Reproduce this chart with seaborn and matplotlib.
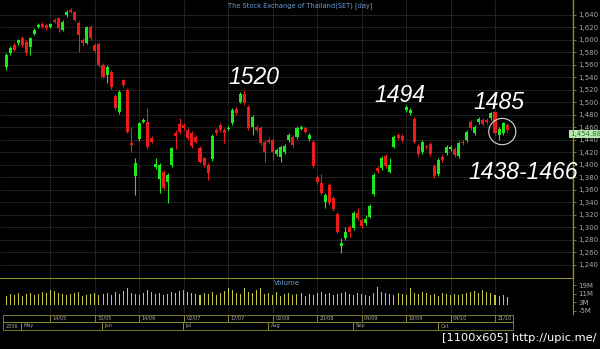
import numpy as np
import pandas as pd
import matplotlib
matplotlib.use("Agg")
import matplotlib.pyplot as plt
from matplotlib.patches import Ellipse, Rectangle
import seaborn as sns

# ---------------- data ----------------
opens = [1556,1579,1592,1594,1603,1597,1588,1609,1620,1625,1623,1621,1632,1634,1616,1639,1648,1644,1627,1599,1595,1621,1592,1593,1560,
         1544,1548,1510,1484,1535,1519,1435,1382,1441,1468,1469,1443,1396,1377,1389,1373,1400,1451,1465,1464,1456,1451,1444,1427,1410,
         1400,1409,1456,1464,1455,1457,1466,1489,1501,1513,1493,1461,1461,1459,1437,1439,1440,1417,1412,1420,1439,1445,1444,1457,1459,
         1441,1437,1380,1370,1341,1368,1347,1321,1270,1283,1300,1299,1323,1311,1307,1317,1353,1395,1395,1414,1389,1429,1448,1446,
         1487,1483,1473,1430,1420,1430,1433,1398,1385,1412,1419,1425,1425,1414,1436,1440,1469,1451,1468,1471,1472,1474,1484,1448,1450,1463]
closes = [1575,1586,1584,1599,1591,1579,1603,1616,1623,1621,1618,1625,1629,1618,1629,1645,1645,1632,1608,1594,1620,1603,1582,1560,1541,
          1557,1524,1491,1517,1528,1453,1432,1403,1466,1471,1428,1437,1401,1400,1363,1384,1426,1446,1452,1459,1443,1430,1437,1405,1400,
          1387,1446,1451,1456,1450,1459,1487,1482,1513,1498,1458,1476,1455,1435,1421,1437,1421,1424,1429,1430,1447,1432,1459,1461,1453,
          1447,1398,1372,1355,1351,1339,1329,1293,1275,1292,1292,1323,1315,1302,1313,1334,1384,1390,1411,1398,1400,1445,1443,1440,
          1492,1487,1437,1417,1436,1428,1417,1382,1407,1408,1428,1428,1416,1435,1434,1452,1459,1460,1473,1465,1468,1482,1450,1457,1466,1455]
highs = [1578,1590,1595,1601,1606,1600,1605,1618,1626,1628,1625,1627,1634,1636,1631,1647,1650,1646,1630,1602,1622,1623,1594,1596,1562,
         1560,1551,1513,1520,1537,1522,1460,1410,1469,1475,1490,1446,1410,1403,1392,1387,1429,1455,1475,1467,1459,1454,1447,1430,1413,
         1403,1449,1459,1467,1458,1462,1490,1492,1516,1519,1496,1479,1464,1462,1440,1445,1443,1427,1432,1433,1450,1448,1462,1464,1462,
         1450,1440,1383,1385,1354,1371,1350,1324,1283,1300,1303,1326,1330,1314,1320,1337,1387,1398,1414,1417,1410,1448,1451,1449,
         1496,1490,1476,1433,1439,1432,1436,1401,1410,1415,1431,1431,1428,1438,1439,1455,1472,1463,1476,1474,1475,1485,1486,1460,1469,1466]
lows = [1552,1576,1582,1592,1589,1575,1575,1607,1618,1619,1615,1619,1627,1612,1614,1637,1643,1630,1581,1590,1593,1600,1579,1556,1538,
        1530,1521,1488,1481,1525,1450,1420,1352,1438,1466,1425,1434,1393,1355,1360,1339,1397,1425,1449,1456,1440,1427,1434,1402,1397,
        1376,1406,1448,1453,1435,1455,1463,1479,1498,1495,1455,1448,1452,1432,1405,1434,1408,1414,1405,1417,1436,1429,1441,1455,1450,
        1438,1395,1369,1352,1330,1336,1326,1290,1259,1280,1285,1296,1312,1299,1304,1314,1350,1387,1392,1395,1386,1426,1440,1437,
        1484,1480,1434,1414,1417,1425,1414,1379,1382,1405,1416,1422,1413,1411,1431,1437,1456,1448,1465,1462,1465,1471,1447,1440,1447,1452]
volumes = [9,11,10,12,9,11,12,10,11,13,12,15,14,12,11,10,11,12,13,9,10,11,12,10,11,
           12,10,13,11,14,16,12,11,10,12,15,13,11,12,10,11,13,12,14,15,13,12,11,10,12,
           11,13,10,12,14,16,15,12,11,16,13,12,15,16,11,12,10,13,9,11,12,10,11,12,9,
           11,10,12,13,11,12,10,11,12,13,11,10,12,11,10,9,12,17,13,12,11,10,12,11,10,
           16,12,11,13,12,10,11,9,12,11,10,11,10,11,12,13,14,12,15,13,12,10,9,10,8]

price_ticks = list(range(1240, 1641, 20))
date_tick_pos = [11, 22, 33, 44, 55, 66, 77, 88, 99, 110, 121]
date_tick_labels = ["14/05", "30/05", "14/06", "02/07", "17/07", "02/08", "20/08", "04/09", "19/09", "04/10", "21/10"]
month_pos = [-0.75, 3.7, 23.8, 43.8, 64.9, 85.9, 106.9]
month_labels = ["2556", "May", "Jun", "Jul", "Aug", "Sep", "Oct"]
vol_ticks = [19, 11, 3, -5]
vol_tick_labels = ["19M", "11M", "3M", "-5M"]
annotations = [("1520", 61.4, 1540), ("1494", 97.5, 1511), ("1485", 122.0, 1499), ("1438-1466", 128.0, 1388)]
last_price = "1,454.88"

df = pd.DataFrame({"i": np.arange(len(opens)), "open": opens, "close": closes,
                   "high": highs, "low": lows, "vol": volumes})

# ---------------- style ----------------
sns.set_style("dark")
plt.rcParams["font.family"] = ["DejaVu Sans"]

W, H = 600, 349
fig = plt.figure(figsize=(6, 3.49), dpi=100, facecolor="black")

XL = (-1.49, 140.3)
OLIVE = "#8c8c2a"
GRID = "#222222"
GREEN = "#1fe81f"
RED = "#ec1b1b"
TXT = "#a8a8a8"

# ---- main panel ----
ax = fig.add_axes([0, 1 - 278 / H, 573 / W, 278 / H])
ax.set_facecolor("black")
ax.set_xlim(*XL)
ax.set_ylim(1218.7, 1663.5)
for p in price_ticks:
    ax.axhline(p, color=GRID, lw=0.7, zorder=0)
for t in date_tick_pos:
    ax.axvline(t, color=GRID, lw=0.7, zorder=0)

up = df[df.close >= df.open]
dn = df[df.close < df.open]
ax.vlines(up.i, up.low, up.high, color=GREEN, lw=0.8, zorder=2)
ax.vlines(dn.i, dn.low, dn.high, color=RED, lw=0.8, zorder=2)
ax.bar(up.i, up.close - up.open, bottom=up.open, width=0.75, color=GREEN, lw=0, zorder=3)
ax.bar(dn.i, dn.open - dn.close, bottom=dn.close, width=0.75, color=RED, lw=0, zorder=3)

ax.yaxis.tick_right()
ax.set_yticks(price_ticks)
ax.set_yticklabels([f"{p:,}" for p in price_ticks])
ax.tick_params(axis="y", colors=OLIVE, labelcolor=TXT, labelsize=5, length=2, width=0.6, pad=2)
ax.set_xticks([])
for s in ["left", "top", "bottom"]:
    ax.spines[s].set_visible(False)
ax.spines["right"].set_color(OLIVE)
ax.spines["right"].set_linewidth(1.0)
ax.grid(False)

for txt, xi, yv in annotations:
    ax.text(xi, yv, txt, color="white", fontsize=16.5, style="italic",
            family="Liberation Sans", ha="center", va="center", zorder=5, clip_on=False)
ax.add_patch(Ellipse((122.8, 1453), width=6.7, height=42, fill=False,
                     edgecolor="#d8d8d8", lw=0.8, zorder=4))

fig.text(300 / W, 1 - 6 / H, "The Stock Exchange of Thailand(SET) [day]",
         color="#6b9fd6", fontsize=4.8, ha="center", va="center")
fig.text(585.5 / W, 1 - 134 / H, last_price, color="#2b7a2b", fontsize=5,
         ha="center", va="center",
         bbox=dict(boxstyle="square,pad=0.15", facecolor="#b8e8b0", edgecolor="none"))

# ---- volume panel ----
vax = fig.add_axes([0, 1 - 314 / H, 573 / W, 36 / H])
vax.set_facecolor("black")
sns.barplot(data=df, x="i", y="vol", ax=vax, color="#c8c83c", width=0.25,
            native_scale=True, saturation=1, linewidth=0)
vax.set_xlim(*XL)
vax.set_ylim(-8.1, 25.9)
vax.set_xlabel("")
vax.set_ylabel("")
vax.set_xticks([])
vax.yaxis.tick_right()
vax.set_yticks(vol_ticks)
vax.set_yticklabels(vol_tick_labels)
vax.tick_params(axis="y", colors=OLIVE, labelcolor=TXT, labelsize=5, length=2, width=0.6, pad=2)
for s in ["left", "bottom"]:
    vax.spines[s].set_visible(False)
vax.spines["top"].set_color(OLIVE)
vax.spines["right"].set_color(OLIVE)
vax.grid(False)
for t in date_tick_pos:
    vax.axvline(t, color=GRID, lw=0.7, zorder=0)
vax.text(0.5, 0.87, "Volume", transform=vax.transAxes, color="#6b9fd6",
         fontsize=5, ha="center", va="center")

# ---- date rows ----
dax = fig.add_axes([0, 1 - 331 / H, 573 / W, 17 / H])
dax.set_facecolor("black")
dax.set_xlim(*XL)
dax.set_ylim(0, 17)
dax.axis("off")
end_i = 125.5
row1 = [-0.75] + date_tick_pos + [end_i]
for k in range(len(row1) - 1):
    dax.add_patch(Rectangle((row1[k], 9.3), row1[k + 1] - row1[k], 7.2, fill=False,
                            edgecolor=OLIVE, lw=0.6))
for p, lab in zip(date_tick_pos, date_tick_labels):
    dax.text(p + 0.6, 12.9, lab, color=TXT, fontsize=3.6, ha="left", va="center")
row2 = month_pos + [end_i]
for k in range(len(row2) - 1):
    dax.add_patch(Rectangle((row2[k], 1.3), row2[k + 1] - row2[k], 7.4, fill=False,
                            edgecolor=OLIVE, lw=0.6))
for p, lab in zip(month_pos, month_labels):
    dax.text(p + 0.6, 5.0, lab, color=TXT, fontsize=3.6, ha="left", va="center")

fig.text(597 / W, 1 - 338 / H, "[1100x605] http://upic.me/", color="white",
         fontsize=8.2, ha="right", va="center")

fig.savefig("out.png", dpi=100, facecolor="black")
